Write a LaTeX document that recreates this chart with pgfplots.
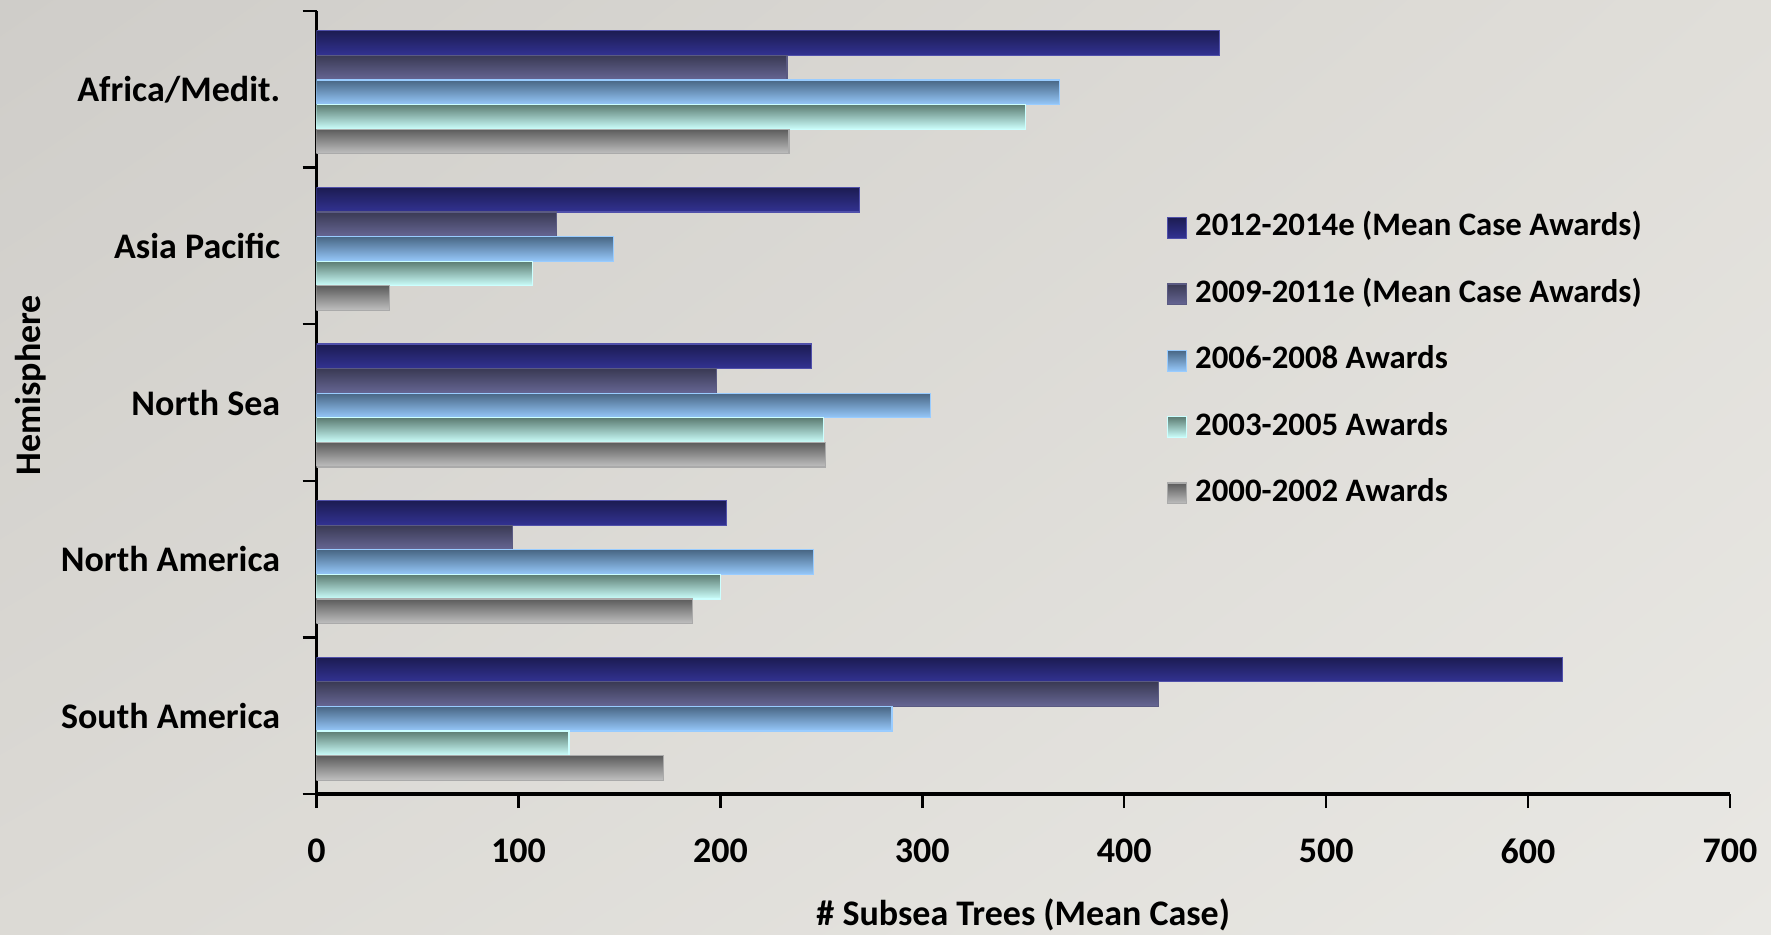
\documentclass[border=0pt]{standalone}
\usepackage{fontspec}
\setmainfont{Carlito}
\usepackage{pgfplots}
\usetikzlibrary{shadings}
\pgfplotsset{compat=1.18}
\definecolor{bgTL}{RGB}{207,205,201}
\definecolor{bgTR}{RGB}{224,222,217}
\definecolor{bgBL}{RGB}{220,218,213}
\definecolor{bgBR}{RGB}{233,232,228}
\definecolor{aTop}{RGB}{28,28,82}
\definecolor{aBot}{RGB}{50,50,146}
\definecolor{aLine}{RGB}{80,80,170}
\definecolor{bTop}{RGB}{58,58,84}
\definecolor{bBot}{RGB}{102,102,148}
\definecolor{bLine}{RGB}{90,90,130}
\definecolor{cTop}{RGB}{72,102,132}
\definecolor{cBot}{RGB}{150,200,250}
\definecolor{cLine}{RGB}{153,204,255}
\definecolor{dTop}{RGB}{92,124,114}
\definecolor{dBot}{RGB}{204,255,252}
\definecolor{dLine}{RGB}{204,255,255}
\definecolor{eTop}{RGB}{92,92,92}
\definecolor{eBot}{RGB}{192,192,192}
\definecolor{eLine}{RGB}{170,170,170}
\newcommand{\chartfont}{\fontsize{8.2}{9.8}\selectfont\bfseries}
\newcommand{\labelfont}{\fontsize{9}{10.8}\selectfont\bfseries}
\pgfplotsset{
  sA/.style={bar shift=-0.295, draw=aLine, line width=0.3pt, top color=aTop, bottom color=aBot},
  sB/.style={bar shift=-0.138, draw=bLine, line width=0.3pt, top color=bTop, bottom color=bBot},
  sC/.style={bar shift=0.019, draw=cLine, line width=0.3pt, top color=cTop, bottom color=cBot},
  sD/.style={bar shift=0.176, draw=dLine, line width=0.3pt, top color=dTop, bottom color=dBot},
  sE/.style={bar shift=0.333, draw=eLine, line width=0.3pt, top color=eTop, bottom color=eBot},
}
\begin{document}
\begin{tikzpicture}[font=\chartfont]
\useasboundingbox (0,0) rectangle (442.75pt,233.5pt);
\shade[upper left=bgTL, upper right=bgTR, lower left=bgBL, lower right=bgBR] (0,0) rectangle (442.75pt,233.5pt);
\begin{axis}[
  at={(79.15pt,35pt)}, anchor=south west,
  scale only axis, width=353.35pt, height=195.75pt,
  xmin=0, xmax=700, ymin=-0.5, ymax=4.5,
  y dir=reverse,
  xbar, bar width=0.157,
  axis x line*=bottom, axis y line*=left,
  axis line style={line width=0.9pt, -},
  tick style={line width=0.6pt, black},
  tick align=outside,
  major tick length=3.5pt,
  xtick={0,100,...,700},
  ytick={-0.5,0.5,...,4.5},
  yticklabels={},
  extra y ticks={0,1,2,3,4},
  extra y tick labels={Africa/Medit.,Asia Pacific,North Sea,North America,South America},
  extra y tick style={major tick length=0pt, yticklabel style={anchor=east, inner sep=0pt, xshift=-8.9pt}},
  /pgf/number format/assume math mode=true,
  ticklabel style={font=\labelfont},
  xticklabel style={anchor=north, inner sep=0pt, yshift=-7.5pt},
  xlabel={\# Subsea Trees (Mean Case)},
  xlabel style={at={(axis description cs:0.5,0)}, anchor=center, yshift=-30.25pt, font=\labelfont},
  ylabel={Hemisphere},
  ylabel style={at={(axis description cs:-0.2024,0.522)}, anchor=center, font=\labelfont},
  legend cell align=left,
  legend image code/.code={\draw[#1, line width=0.3pt] (0pt,-2.6pt) rectangle (4.8pt,2.6pt);},
  legend style={at={(axis description cs:0.601,0.5534)}, anchor=west, draw=none, fill=none,
    inner sep=0pt, row sep=8.6pt, column sep=2pt,
    nodes={inner sep=0pt, text height=6pt, text depth=2pt, font=\chartfont}},
]
% 2012-2014e (Mean Case Awards)
\addplot+[sA] coordinates {(447,0)};
\addplot+[sA, forget plot] coordinates {(269,1)};
\addplot+[sA, forget plot] coordinates {(245,2)};
\addplot+[sA, forget plot] coordinates {(203,3)};
\addplot+[sA, forget plot] coordinates {(617,4)};
% 2009-2011e (Mean Case Awards)
\addplot+[sB] coordinates {(233,0)};
\addplot+[sB, forget plot] coordinates {(119,1)};
\addplot+[sB, forget plot] coordinates {(198,2)};
\addplot+[sB, forget plot] coordinates {(97,3)};
\addplot+[sB, forget plot] coordinates {(417,4)};
% 2006-2008 Awards
\addplot+[sC] coordinates {(368,0)};
\addplot+[sC, forget plot] coordinates {(147,1)};
\addplot+[sC, forget plot] coordinates {(304,2)};
\addplot+[sC, forget plot] coordinates {(246,3)};
\addplot+[sC, forget plot] coordinates {(285,4)};
% 2003-2005 Awards
\addplot+[sD] coordinates {(351,0)};
\addplot+[sD, forget plot] coordinates {(107,1)};
\addplot+[sD, forget plot] coordinates {(251,2)};
\addplot+[sD, forget plot] coordinates {(200,3)};
\addplot+[sD, forget plot] coordinates {(125,4)};
% 2000-2002 Awards
\addplot+[sE] coordinates {(234,0)};
\addplot+[sE, forget plot] coordinates {(36,1)};
\addplot+[sE, forget plot] coordinates {(252,2)};
\addplot+[sE, forget plot] coordinates {(186,3)};
\addplot+[sE, forget plot] coordinates {(172,4)};
\legend{2012-2014e (Mean Case Awards),2009-2011e (Mean Case Awards),2006-2008 Awards,2003-2005 Awards,2000-2002 Awards}
\end{axis}
\end{tikzpicture}
\end{document}
